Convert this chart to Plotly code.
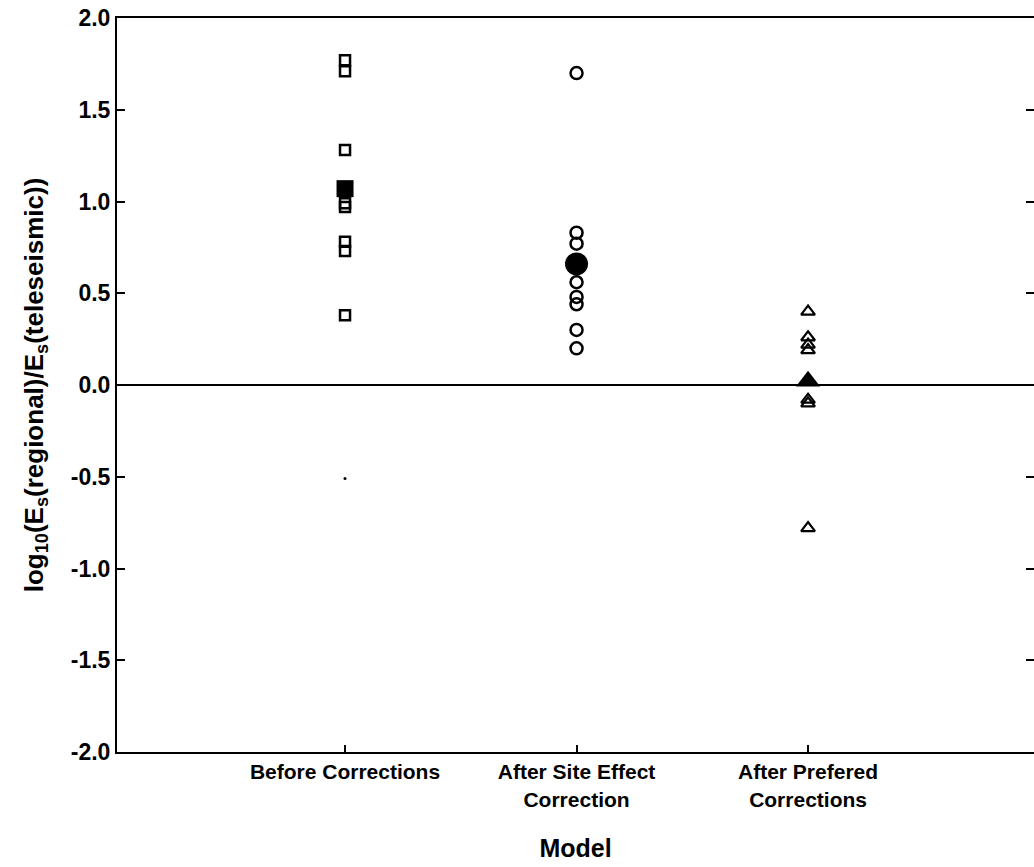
import plotly.graph_objects as go

categories = ["Before Corrections", "After Site Effect<br>Correction", "After Prefered<br>Corrections"]
cat_pos = [1, 2, 3]

before_vals = [1.77, 1.71, 1.28, 0.97, 0.99, 0.78, 0.73, 0.38]
before_mean = 1.07
before_dot = [-0.51]
site_vals = [1.70, 0.83, 0.77, 0.56, 0.48, 0.44, 0.30, 0.20]
site_mean = 0.66
pref_vals = [0.40, 0.26, 0.22, 0.19, -0.08, -0.10, -0.78]
pref_mean = 0.02

y_ticks = [-2.0, -1.5, -1.0, -0.5, 0.0, 0.5, 1.0, 1.5, 2.0]

FONT = "Liberation Sans, Arial, Helvetica, sans-serif"
BLACK = "#000000"

fig = go.Figure()

def add_group(xpos, vals, symbol, size, lw):
    fig.add_trace(go.Scatter(
        x=[xpos] * len(vals), y=vals, mode="markers",
        marker=dict(symbol=symbol, size=size, color=BLACK,
                    line=dict(color=BLACK, width=lw)),
        showlegend=False, hoverinfo="y"))

def add_mean(xpos, val, symbol, size):
    fig.add_trace(go.Scatter(
        x=[xpos], y=[val], mode="markers",
        marker=dict(symbol=symbol, size=size, color=BLACK,
                    line=dict(color=BLACK, width=0)),
        showlegend=False, hoverinfo="y"))

add_group(cat_pos[0], before_vals, "square-open", 10, 2.5)
add_mean(cat_pos[0], before_mean, "square", 17)
fig.add_trace(go.Scatter(x=[cat_pos[0]] * len(before_dot), y=before_dot, mode="markers",
                         marker=dict(symbol="circle", size=3, color=BLACK),
                         showlegend=False, hoverinfo="y"))

add_group(cat_pos[1], site_vals, "circle-open", 12, 2.5)
add_mean(cat_pos[1], site_mean, "circle", 23)

add_group(cat_pos[2], pref_vals, "triangle-up-open", 12, 2.2)
add_mean(cat_pos[2], pref_mean, "triangle-up", 21)

# invisible trace on secondary y axis for right-hand inward ticks
fig.add_trace(go.Scatter(x=[cat_pos[0]], y=[0], yaxis="y2", mode="markers",
                         marker=dict(opacity=0), showlegend=False, hoverinfo="skip"))

fig.update_layout(
    width=1034, height=867,
    margin=dict(l=117, r=0, t=18, b=115),
    paper_bgcolor="white", plot_bgcolor="white",
    font=dict(family=FONT, color=BLACK, size=20, weight="bold"),
    xaxis=dict(
        range=[0.015, 3.976], tickvals=cat_pos, ticktext=categories,
        showline=True, linecolor=BLACK, linewidth=2, mirror=True,
        ticks="inside", ticklen=7, tickwidth=1.5, tickcolor=BLACK,
        showgrid=False, zeroline=False,
        tickfont=dict(family=FONT, size=21, weight="bold"),
        title=dict(text="Model", font=dict(family=FONT, size=25, weight="bold"), standoff=30),
    ),
    yaxis=dict(
        range=[-2, 2], tickvals=y_ticks, ticktext=[f"{v:.1f}" for v in y_ticks],
        showline=True, linecolor=BLACK, linewidth=2, mirror=False,
        ticks="inside", ticklen=8, tickwidth=1.5, tickcolor=BLACK,
        showgrid=False, zeroline=True, zerolinecolor=BLACK, zerolinewidth=2,
        tickfont=dict(family=FONT, size=23, weight="bold"),
        title=dict(text="log<sub>10</sub>(E<sub>s</sub>(regional)/E<sub>s</sub>(teleseismic))",
                   font=dict(family=FONT, size=26, weight="bold"), standoff=20),
    ),
    yaxis2=dict(
        range=[-2, 2], tickvals=y_ticks, overlaying="y", side="right",
        showline=False, showticklabels=False, ticks="inside", ticklen=8,
        tickwidth=1.5, tickcolor=BLACK, showgrid=False, zeroline=False,
    ),
)

fig.write_html("out.html")
